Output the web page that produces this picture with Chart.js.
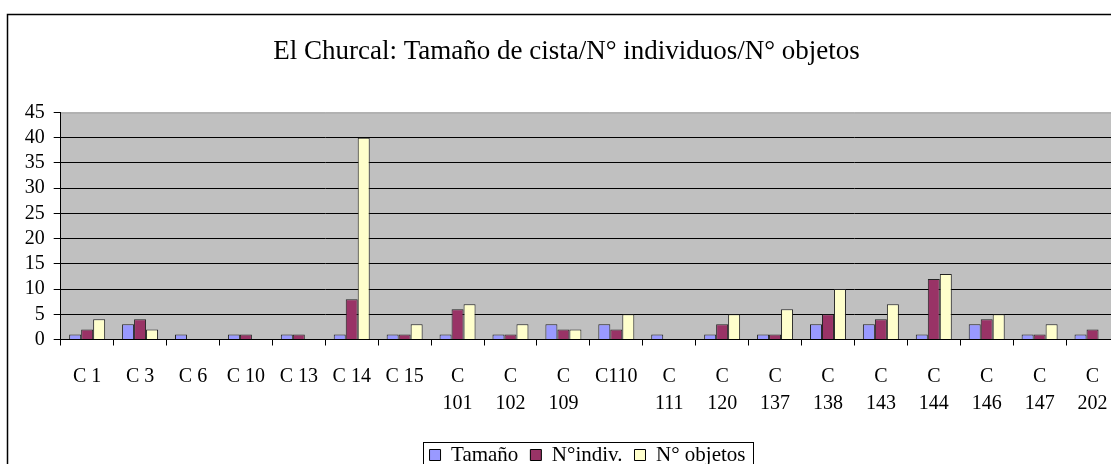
<!DOCTYPE html>
<html>
<head>
<meta charset="utf-8">
<script src="https://cdn.jsdelivr.net/npm/chart.js@4/dist/chart.umd.min.js"></script>
<style>
html,body{margin:0;padding:0;background:#fff;overflow:hidden;width:1111px;height:464px;}
#c{position:absolute;left:0;top:0;}
</style>
</head>
<body>
<canvas id="c" width="1130" height="480" style="width:1130px;height:480px"></canvas>
<script>
const categories = ["C 1","C 3","C 6","C 10","C 13","C 14","C 15",["C","101"],["C","102"],["C","109"],"C110",["C","111"],["C","120"],["C","137"],["C","138"],["C","143"],["C","144"],["C","146"],["C","147"],["C","202"]];
const tamano =   [1,3,1,1,1,1,1,1,1,3,3,1,1,1,3,3,1,3,1,1];
const indiv =    [2,4,0,1,1,8,1,6,1,2,2,0,3,1,5,4,12,4,1,2];
const objetos =  [4,2,0,0,0,40,3,7,3,2,5,0,5,6,10,7,13,5,3,0];
const seriesNames = ["Tamaño","N°indiv.","N° objetos"];
const yTicks = [0,5,10,15,20,25,30,35,40,45];

const FONT = "'Liberation Serif','Times New Roman',serif";

const framePlugin = {
  id:'frame',
  afterLayout(chart){
    const lg = chart.legend;
    if(lg){ lg.left += 24; lg.right += 24; }
    const tb = chart.titleBlock;
    if(tb){ tb.left += 3; tb.right += 3; }
  },
  beforeDraw(chart){
    const ctx = chart.ctx, a = chart.chartArea;
    ctx.save();
    ctx.fillStyle = '#fff';
    ctx.fillRect(0,0,chart.width,chart.height);
    ctx.strokeStyle = '#000';
    ctx.lineWidth = 1.5;
    ctx.strokeRect(7.5,14.5,1140,500);
    ctx.fillStyle = '#C0C0C0';
    ctx.fillRect(a.left,a.top,a.right-a.left,a.bottom-a.top);
    ctx.strokeStyle = '#9a9a9a';
    ctx.lineWidth = 1;
    ctx.beginPath();
    ctx.moveTo(a.left,a.top+0.5);
    ctx.lineTo(a.right,a.top+0.5);
    ctx.stroke();
    ctx.restore();
  },
  afterDraw(chart){
    const lg = chart.legend;
    if(!lg || !lg.legendHitBoxes || !lg.legendHitBoxes.length) return;
    const hb = lg.legendHitBoxes;
    let l = Infinity, r = -Infinity;
    hb.forEach(h=>{ l=Math.min(l,h.left); r=Math.max(r,h.left+h.width); });
    const ctx = chart.ctx;
    ctx.save();
    ctx.strokeStyle = '#000';
    ctx.lineWidth = 1;
    ctx.strokeRect(Math.round(l-7)+0.5, Math.round(hb[0].top-3)+0.5, Math.round(r-l+14), 100);
    ctx.restore();
  }
};

new Chart(document.getElementById('c'), {
  type:'bar',
  data:{
    labels: categories,
    datasets:[
      {label:seriesNames[0], data:tamano, backgroundColor:'#9999FF', borderColor:'#222', borderWidth:1},
      {label:seriesNames[1], data:indiv, backgroundColor:'#993366', borderColor:'#222', borderWidth:1},
      {label:seriesNames[2], data:objetos, backgroundColor:'#FFFFCC', borderColor:'#222', borderWidth:1}
    ]
  },
  options:{
    responsive:false,
    animation:false,
    layout:{padding:{left:8,right:11,top:0,bottom:4.5}},
    datasets:{bar:{categoryPercentage:0.68, barPercentage:1.0}},
    plugins:{
      title:{display:true, text:'El Churcal: Tamaño de cista/N° individuos/N° objetos', color:'#000',
        font:{family:FONT, size:27, weight:'normal'}, padding:{top:36,bottom:44}},
      legend:{display:true, position:'bottom',
        labels:{color:'#000', font:{family:FONT,size:21}, boxWidth:11, boxHeight:11, padding:12,
          generateLabels(chart){
            return chart.data.datasets.map((d,i)=>({text:d.label, fillStyle:d.backgroundColor, strokeStyle:'#000', lineWidth:1, datasetIndex:i, fontColor:'#000'}));
          }}},
      tooltip:{enabled:false}
    },
    scales:{
      x:{
        grid:{offset:true, drawOnChartArea:false, drawTicks:true, tickLength:6, color:'#000'},
        border:{display:true, color:'#000', width:1},
        ticks:{color:'#000', font:{family:FONT,size:20, lineHeight:1.35}, padding:18, maxRotation:0, autoSkip:false},
        afterFit(s){ s.height = 93; }
      },
      y:{
        min:0, max:45,
        afterBuildTicks(s){ s.ticks = yTicks.map(v=>({value:v})); },
        grid:{color:(c)=> c.tick && c.tick.value===45 ? 'rgba(0,0,0,0)' : '#000', lineWidth:1, drawTicks:true, tickLength:7, tickColor:'#000'},
        border:{display:true, color:'#000', width:1},
        ticks:{color:'#000', font:{family:FONT,size:20}, padding:9, autoSkip:false, stepSize:5},
        afterFit(s){ s.width = 52.7; }
      }
    }
  },
  plugins:[framePlugin]
});
</script>
</body>
</html>
